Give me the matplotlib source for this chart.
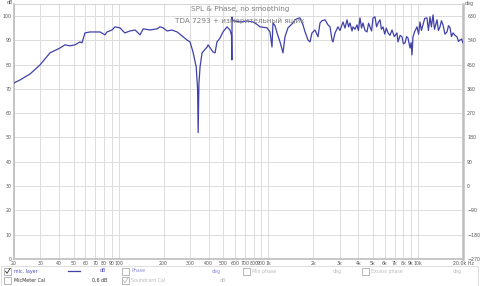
import matplotlib
matplotlib.use("Agg")
import matplotlib.pyplot as plt
from matplotlib.patches import Rectangle
from matplotlib.lines import Line2D
from matplotlib.ticker import FixedLocator, FixedFormatter, NullLocator

# ---- data ----
freq_hz = [20, 22, 25.6, 29.8, 34.8, 40.6, 43.8, 47.3, 51.1, 55.2, 56.9, 59.6, 64.4,
           69.5, 75.1, 81.1, 83.6, 90.3, 94.6, 102, 110, 119, 129, 139, 146, 162,
           181, 189, 198, 211, 227, 246, 265, 286, 300, 314, 330, 337, 340, 344, 350,
           361, 390, 396, 427, 441, 454, 476, 498, 530, 555, 568, 571, 573, 575, 581,
           647, 721, 791, 841, 880, 981, 1027, 1059, 1075, 1109, 1144, 1198, 1254,
           1293, 1354, 1463, 1509, 1580, 1629, 1706, 1759, 1843, 1900, 1959, 2052,
           2149, 2216, 2285, 2394, 2507, 2586, 2666, 2707, 2792, 2923, 3014, 3157,
           3256, 3358, 3440, 3516, 3626, 3682, 3797, 3916, 4000, 4100, 4200, 4294,
           4428, 4566, 4680, 4782, 4900, 5010, 5165, 5290, 5410, 5578, 5700, 5842,
           6000, 6150, 6310, 6500, 6710, 6950, 7244, 7356, 7600, 7822, 8000, 8192,
           8400, 8580, 8848, 9000, 9124, 9268, 9500, 9854, 10100, 10320, 10550,
           10808, 11100, 11492, 11750, 12038, 12300, 12608, 12900, 13410, 13700,
           14042, 14350, 14705, 15150, 15632, 16000, 16376, 16750, 17150, 17700,
           18236, 18650, 19098, 19550, 20000]
spl_db = [72.4, 73.7, 76.1, 79.8, 84.8, 86.8, 88.1, 87.7, 88.1, 89.3, 88.9, 93.0, 93.4,
          93.4, 93.4, 92.2, 93.4, 94.2, 95.5, 95.1, 93.0, 93.8, 94.2, 92.2, 94.7, 94.2,
          94.7, 95.5, 95.1, 93.8, 94.2, 93.4, 91.8, 90.1, 89.3, 85.2, 79.0, 70.0, 52.0,
          72.0, 79.0, 84.8, 87.2, 88.1, 85.2, 84.8, 89.3, 90.9, 93.4, 95.5, 94.2, 92.0,
          81.9, 99.5, 98.4, 98.0, 97.5, 97.9, 97.5, 96.5, 95.5, 95.1, 93.4, 87.2, 97.1,
          96.0, 93.0, 89.3, 84.8, 91.4, 95.1, 97.1, 98.4, 99.0, 99.2, 96.3, 93.5,
          90.1, 89.3, 93.0, 94.2, 91.4, 97.1, 98.0, 98.4, 96.3, 95.5, 90.1, 89.3,
          93.0, 95.5, 94.0, 97.5, 95.0, 98.4, 95.5, 97.1, 93.8, 95.5, 94.5, 96.3, 94.0,
          99.2, 95.0, 97.1, 94.0, 93.4, 97.0, 95.5, 93.8, 99.2, 99.6, 95.5, 97.1, 98.4,
          94.5, 95.5, 92.5, 95.0, 93.0, 92.0, 94.2, 91.5, 93.0, 89.3, 92.0, 91.4,
          88.5, 88.9, 91.5, 90.9, 86.8, 89.0, 84.0, 91.4, 93.5, 95.5, 92.5, 97.5,
          94.0, 96.3, 99.0, 99.2, 94.0, 99.6, 95.5, 100.4, 94.5, 98.4, 94.0, 95.5,
          98.0, 96.3, 92.5, 93.4, 96.0, 95.1, 91.5, 93.0, 92.0, 91.4, 89.5, 90.1,
          90.5, 88.9]

x_ticks = [20, 30, 40, 50, 60, 70, 80, 90, 100, 200, 300, 400, 500, 600, 700, 800,
           900, 1000, 2000, 3000, 4000, 5000, 6000, 7000, 8000, 9000, 10000, 20000]
x_tick_labels = ["20", "30", "40", "50", "60", "70", "80", "90", "100", "200", "300",
                 "400", "500", "600", "700", "800", "900", "1k", "2k", "3k", "4k", "5k",
                 "6k", "7k", "8k", "9k", "10k", "20.0k Hz"]
db_ticks = [0, 10, 20, 30, 40, 50, 60, 70, 80, 90, 100]
deg_ticks = [-270, -180, -90, 0, 90, 180, 270, 360, 450, 540, 630]

title_lines = ["SPL & Phase, no smoothing", "TDA 7293 + измерительный ящик"]

# ---- figure ----
W, H = 480, 286
fig = plt.figure(figsize=(W / 100, H / 100), dpi=100)
fig.patch.set_facecolor("white")
ax = fig.add_axes([14 / W, 1 - 259 / H, (463 - 14) / W, (259 - 4) / H])

line_col = "#4040aa"
grid_col = "#dcdcdc"
tick_col = "#555555"
fs = 3.4

ax.plot(freq_hz, spl_db, color=line_col, lw=0.9, zorder=3)
ax.set_xscale("log")
ax.set_xlim(20, 20000)
ax.set_ylim(0, 104.9)

ax.xaxis.set_major_locator(FixedLocator(x_ticks))
ax.xaxis.set_major_formatter(FixedFormatter(x_tick_labels))
ax.xaxis.set_minor_locator(NullLocator())
ax.set_yticks(db_ticks)
ax.tick_params(axis="both", length=0, labelsize=fs, colors=tick_col, pad=1.5)
ax.grid(True, color=grid_col, lw=0.7, zorder=0)

for s in ["left", "bottom", "right"]:
    ax.spines[s].set_color("#bdbdbd")
    ax.spines[s].set_linewidth(1.2)
ax.spines["right"].set_linewidth(1.8)
ax.spines["top"].set_color("#cfcfcf")
ax.spines["top"].set_linewidth(0.6)

ax2 = ax.twinx()
ax2.set_ylim(-270, -270 + 104.9 * 9)
ax2.set_yticks(deg_ticks)
ax2.tick_params(axis="y", length=0, labelsize=fs, colors=tick_col, pad=3)
for s in ax2.spines.values():
    s.set_visible(False)

fig.text(10 / W, 1 - 3 / H, "dB", fontsize=fs, color=tick_col, ha="center", va="center")
fig.text(469 / W, 1 - 3 / H, "deg", fontsize=fs, color=tick_col, ha="center", va="center")

fig.text(240 / W, 1 - 9 / H, title_lines[0], fontsize=5.2, color="#7e7e7e",
         ha="center", va="center", zorder=5)
fig.text(240 / W, 1 - 20.5 / H, title_lines[1], fontsize=5.2, color="#7e7e7e",
         ha="center", va="center", zorder=5)

# ---- legend panel ----
panel = Rectangle((1 / W, 0.5 / H), 477 / W, 20 / H, transform=fig.transFigure,
                  facecolor="white", edgecolor="#d8d8d8", lw=0.6)
fig.add_artist(panel)


def checkbox(xp, yp, checked=False, grey=False):
    r = Rectangle((xp / W, 1 - (yp + 3.5) / H), 7 / W, 7 / H, transform=fig.transFigure,
                  facecolor="white", edgecolor="#9a9a9a", lw=0.5)
    fig.add_artist(r)
    if checked:
        c = "#bbbbbb" if grey else "#333333"
        fig.add_artist(Line2D([(xp + 1.5) / W, (xp + 3) / W, (xp + 6) / W],
                              [1 - (yp + 0.3) / H, 1 - (yp + 2.3) / H, 1 - (yp - 2.5) / H],
                              transform=fig.transFigure, color=c, lw=0.6))


def label(xp, yp, s, color="#4a4ac0", ha="left"):
    fig.text(xp / W, 1 - yp / H, s, fontsize=3.4, color=color, ha=ha, va="center")


r1, r2 = 271, 280.5
checkbox(4, r1, checked=True)
label(14, r1, "mic. layer")
fig.add_artist(Line2D([68 / W, 80 / W], [1 - r1 / H, 1 - r1 / H],
                      transform=fig.transFigure, color=line_col, lw=0.9))
label(103, r1, "dB", ha="center")
checkbox(122, r1)
label(131, r1, "Phase", color="#8a8ad0")
label(216, r1, "deg", color="#8a8ad0", ha="center")
checkbox(243, r1)
label(252, r1, "Min phase", color="#bbbbbb")
label(337, r1, "deg", color="#bbbbbb", ha="center")
checkbox(362, r1)
label(371, r1, "Excess phase", color="#bbbbbb")
label(457, r1, "deg", color="#bbbbbb", ha="center")

checkbox(4, r2)
label(14, r2, "MicMeter Cal", color="#333333")
label(107, r2, "0,6 dB", color="#333333", ha="right")
checkbox(122, r2, checked=True, grey=True)
label(131, r2, "Soundcard Cal", color="#bbbbbb")
label(223, r2, "dB", color="#bbbbbb", ha="center")

fig.savefig("out.png", dpi=100, facecolor="white")
